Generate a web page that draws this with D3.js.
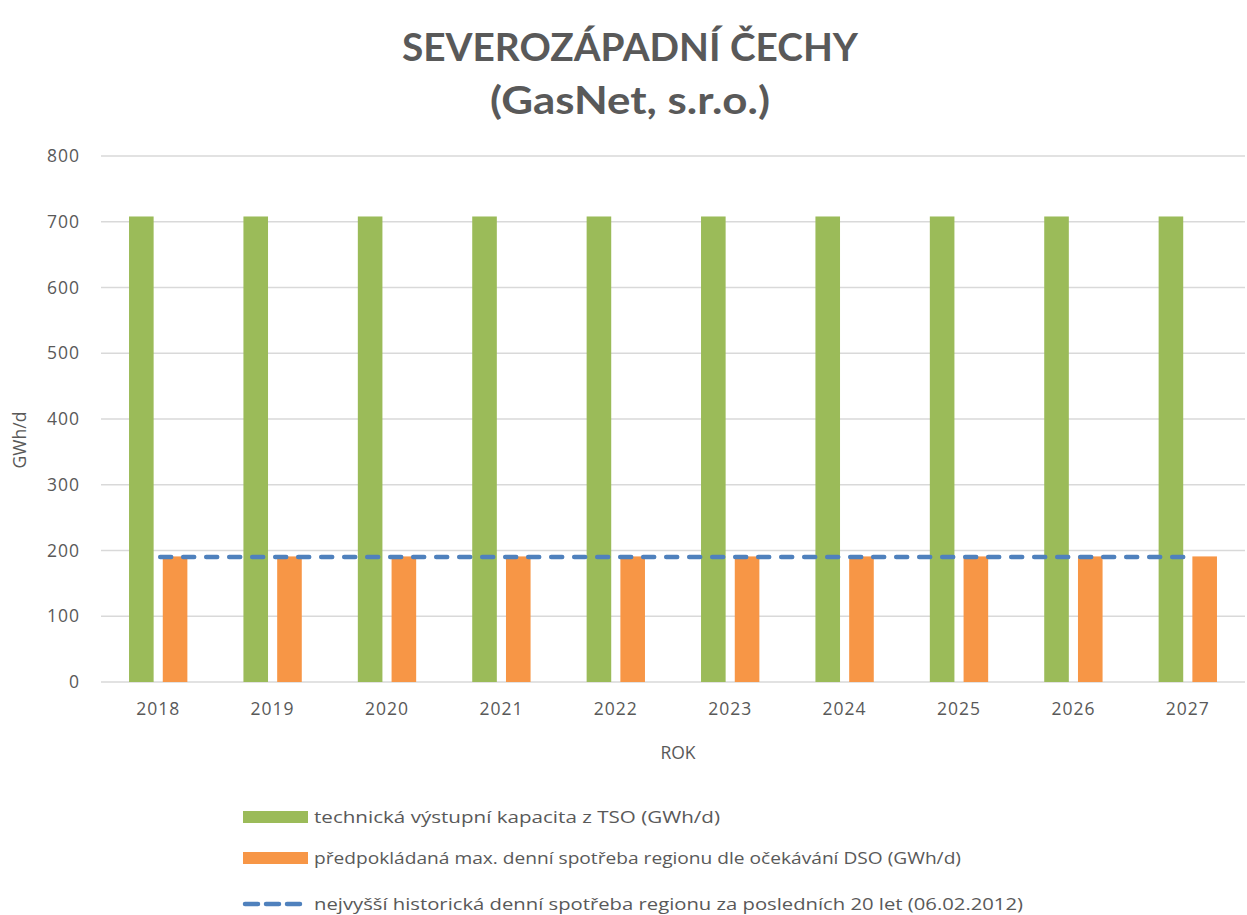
<!DOCTYPE html>
<html>
<head>
<meta charset="utf-8">
<script src="https://cdn.jsdelivr.net/npm/d3@7"></script>
<style>
  html, body { margin: 0; padding: 0; background: #fff; overflow: hidden; }
  svg { display: block; }
  text { font-family: "Open Sans", Lato, sans-serif; }
</style>
</head>
<body>
<svg width="1247" height="915"></svg>
<script>
// data
const years = ["2018", "2019", "2020", "2021", "2022", "2023", "2024", "2025", "2026", "2027"];
const capacity = [708, 708, 708, 708, 708, 708, 708, 708, 708, 708];
const expectedMax = [191, 191, 191, 191, 191, 191, 191, 191, 191, 191];
const historicMax = [190, 190, 190, 190, 190, 190, 190, 190, 190, 190];
const yTicks = [0, 100, 200, 300, 400, 500, 600, 700, 800];
const legendLabels = [
  "technická výstupní kapacita z TSO (GWh/d)",
  "předpokládaná max. denní spotřeba regionu dle očekávání DSO (GWh/d)",
  "nejvyšší historická denní spotřeba regionu za posledních 20 let (06.02.2012)"
];

const green = "#9BBB59", orange = "#F79646", blue = "#4F81BD";
const grey = "#595959";

const svg = d3.select("svg");
const margin = {top: 156, left: 101, right: 2, bottom: 233};
const width = +svg.attr("width"), height = +svg.attr("height");
const innerWidth = width - margin.left - margin.right;
const innerHeight = height - margin.top - margin.bottom;

const chart = svg.append("g").attr("transform", `translate(${margin.left},${margin.top})`);

// title (stretched a bit like the source image)
svg.append("text").attr("x", 630).attr("y", 61).attr("text-anchor", "middle")
  .attr("font-size", 39).attr("font-weight", "bold").attr("fill", grey)
  .style("font-family", "Lato, sans-serif")
  .attr("textLength", 456).attr("lengthAdjust", "spacingAndGlyphs")
  .text("SEVEROZÁPADNÍ ČECHY");
svg.append("text").attr("x", 630).attr("y", 114).attr("text-anchor", "middle")
  .attr("font-size", 39).attr("font-weight", "bold").attr("fill", grey)
  .style("font-family", "Lato, sans-serif")
  .attr("textLength", 280).attr("lengthAdjust", "spacingAndGlyphs")
  .text("(GasNet, s.r.o.)");

// scales
const x = d3.scaleBand().domain(years).range([0, innerWidth]);
const y = d3.scaleLinear().domain([0, 800]).range([innerHeight, 0]);

// gridlines
chart.selectAll(".grid").data(yTicks).enter().append("line")
  .attr("x1", 0).attr("x2", innerWidth)
  .attr("y1", d => y(d)).attr("y2", d => y(d))
  .attr("stroke", "#d9d9d9").attr("stroke-width", 1.3);

// y axis
const yAxis = chart.append("g").call(d3.axisLeft(y).tickValues(yTicks).tickSize(0).tickPadding(21));
yAxis.attr("font-family", null).attr("font-size", null);
yAxis.select(".domain").remove();
yAxis.selectAll("text").attr("font-size", 17.5).attr("fill", grey).attr("letter-spacing", 1);

// x axis
const xAxis = chart.append("g").attr("transform", `translate(0,${innerHeight})`)
  .call(d3.axisBottom(x).tickSize(0).tickPadding(21));
xAxis.attr("font-family", null).attr("font-size", null);
xAxis.select(".domain").remove();
xAxis.selectAll("text").attr("font-size", 17.5).attr("fill", grey).attr("letter-spacing", 1);

// axis titles
svg.append("text").attr("transform", "translate(26,440) rotate(-90)")
  .attr("text-anchor", "middle").attr("font-size", 17.5).attr("fill", grey).text("GWh/d");
svg.append("text").attr("x", margin.left + innerWidth / 2 + 5).attr("y", 759)
  .attr("text-anchor", "middle").attr("font-size", 17.5).attr("fill", grey).text("ROK");

// bars
const bw = x.bandwidth() * 0.215;
const gap = x.bandwidth() * 0.08;
chart.selectAll(".cap").data(years).enter().append("rect")
  .attr("x", (d) => x(d) + x.bandwidth() / 2 - gap / 2 - bw)
  .attr("y", (d, i) => y(capacity[i]))
  .attr("width", bw)
  .attr("height", (d, i) => innerHeight - y(capacity[i]))
  .attr("fill", green);

chart.selectAll(".exp").data(years).enter().append("rect")
  .attr("x", (d) => x(d) + x.bandwidth() / 2 + gap / 2)
  .attr("y", (d, i) => y(expectedMax[i]))
  .attr("width", bw)
  .attr("height", (d, i) => innerHeight - y(expectedMax[i]))
  .attr("fill", orange);

// historic max line
const line = d3.line()
  .x((d, i) => x(years[i]) + x.bandwidth() / 2)
  .y(d => y(d));
chart.append("path").datum(historicMax)
  .attr("d", line).attr("fill", "none")
  .attr("stroke", blue).attr("stroke-width", 4.5)
  .attr("stroke-dasharray", "11,12").attr("stroke-linecap", "round")
  .attr("stroke-dashoffset", -2);

// legend
const legend = svg.append("g").attr("transform", "translate(243,0)");
const ly = [817, 858, 904];
const lw = [406, 647, 709];
legend.append("rect").attr("x", 0).attr("y", ly[0] - 6).attr("width", 65).attr("height", 12).attr("fill", green);
legend.append("rect").attr("x", 0).attr("y", ly[1] - 6).attr("width", 65).attr("height", 12).attr("fill", orange);
legend.append("line").attr("x1", 2).attr("x2", 65).attr("y1", ly[2]).attr("y2", ly[2])
  .attr("stroke", blue).attr("stroke-width", 4.5).attr("stroke-dasharray", "13,8").attr("stroke-linecap", "round");
legend.selectAll(".lt").data(legendLabels).enter().append("text")
  .attr("x", 71).attr("y", (d, i) => ly[i] + 6)
  .attr("font-size", 17).attr("fill", grey)
  .attr("textLength", (d, i) => lw[i]).attr("lengthAdjust", "spacingAndGlyphs")
  .text(d => d);
</script>
</body>
</html>
